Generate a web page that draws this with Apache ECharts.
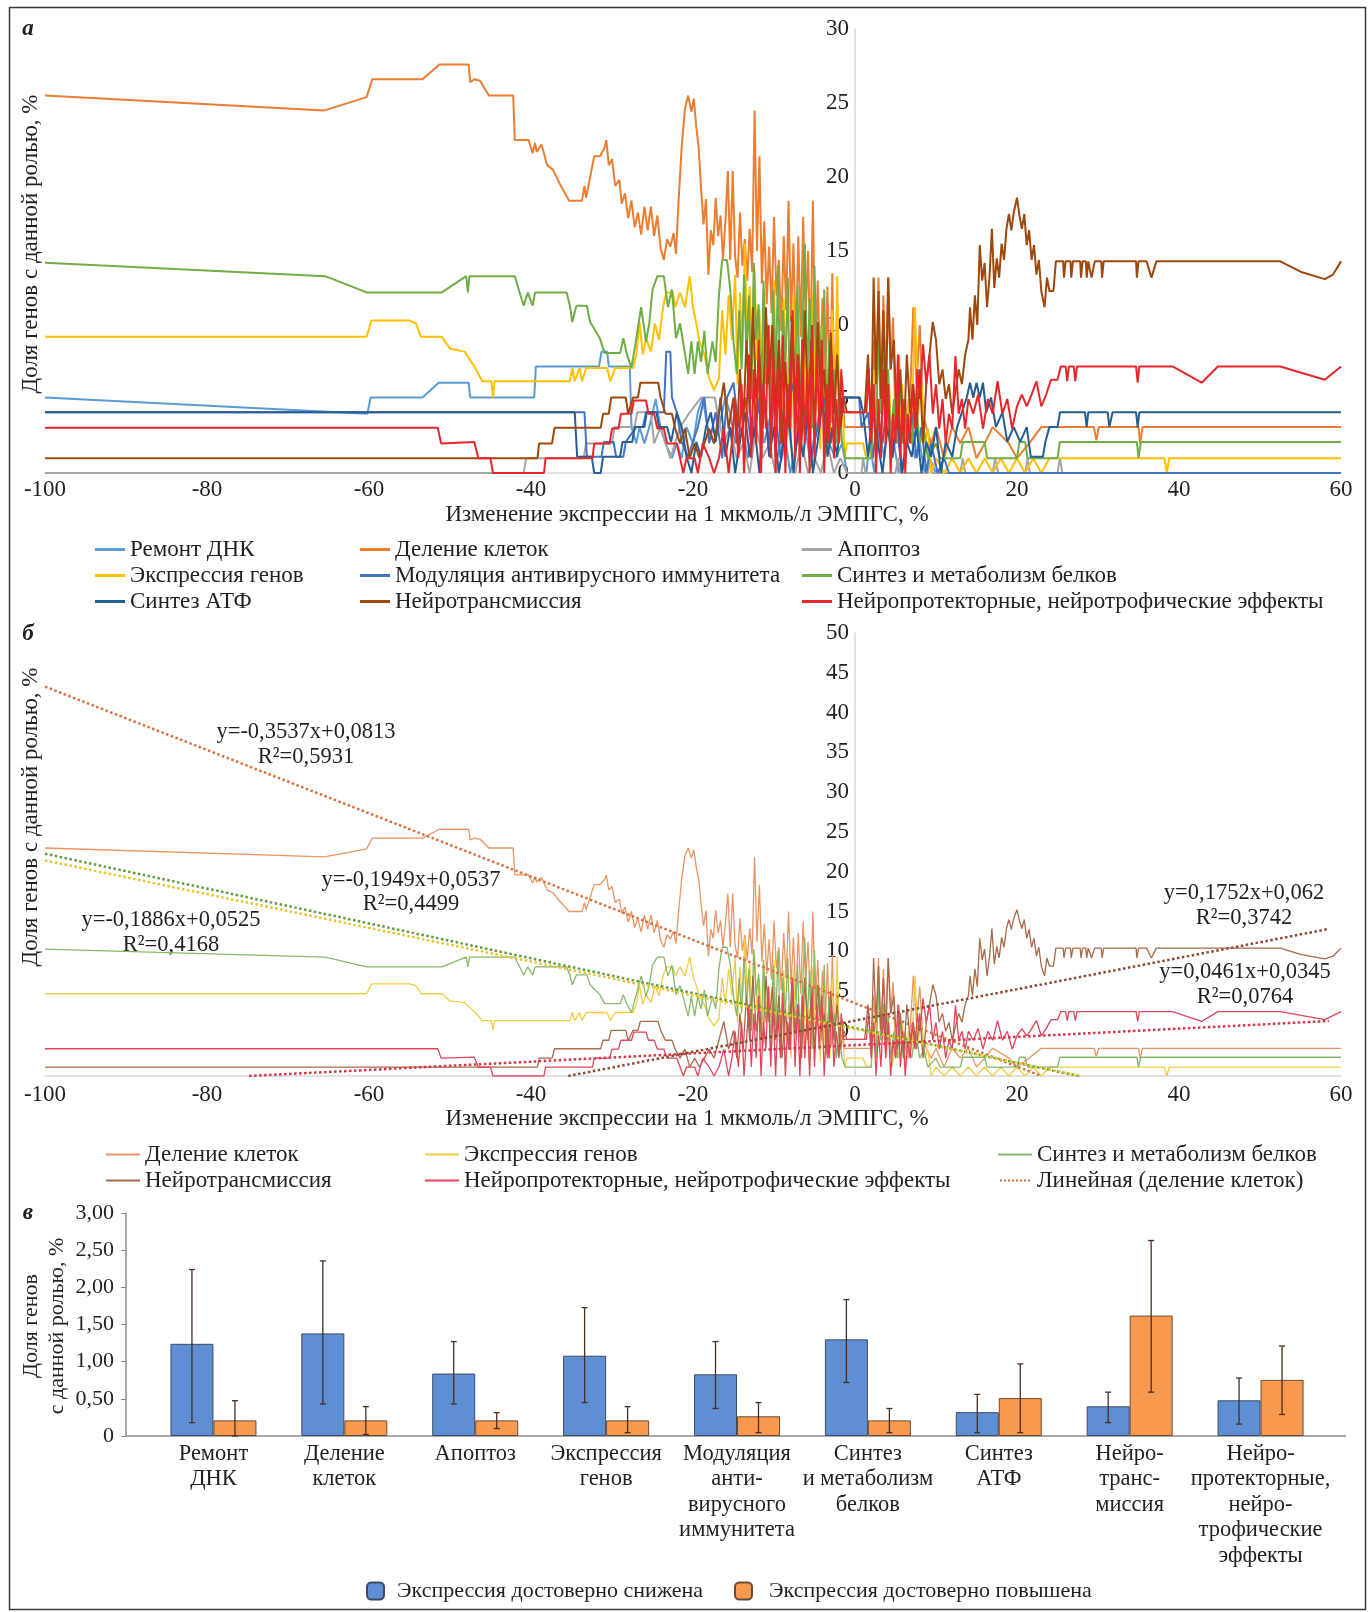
<!DOCTYPE html>
<html>
<head>
<meta charset="utf-8">
<script src="https://cdn.jsdelivr.net/npm/echarts@6/dist/echarts.min.js"></script>
<style>
  html, body { margin: 0; padding: 0; background: #fff; }
  #chart { width: 1368px; height: 1612px; }
</style>
</head>
<body>
<div id="chart"></div>
<script>
// panel а / б: share of genes with a role vs. expression change (x, %)
const dnaRepair = [[-100,5.1],[-60.2,4.0],[-59.8,5.1],[-53.4,5.1],[-51.4,6.1],[-47.7,6.1],[-47.5,5.1],[-39.6,5.1],[-39.4,7.2],[-31.6,7.2],[-31.3,8.2],[-30.6,8.2],[-30.4,7.2],[-27.8,7.2],[-27.6,3.1],[-27,2],[-26.6,3.1],[-26,2],[-25.4,3.1],[-24.6,5],[-24,3],[-23.4,2],[-22.6,1],[-22,2],[-21.4,1],[-20.8,3.1],[-20,2],[-19.4,4.1],[-18.8,5.1],[-18.2,3],[-17.4,2],[-16.8,3.1],[-16,5.1],[-15.4,4],[-14.8,2],[-14,3.1],[-13.2,1],[-12.6,3],[-12,5.1],[-11.2,2],[-10.4,4],[-9.6,1],[-8.8,3.1],[-8,0],[-7.2,2],[-6.4,4.1],[-5.6,1],[-4.8,3],[-4,5.1],[-3.2,2],[-2.4,1],[-1.6,2],[-1,0],[1.4,0],[1.8,2],[2.4,0],[3,3],[3.6,1],[4.2,4],[4.8,2],[5.4,0],[6,1],[6.8,3],[7.4,1],[8,2],[8.6,0],[9.2,1],[10,0],[60,0]];

const cellDivision = [[-100,25.5],[-65.5,24.5],[-60.3,25.4],[-59.6,26.6],[-53.4,26.6],[-51.3,27.6],[-47.7,27.6],[-47.5,26.4],[-47,26.6],[-46.3,26.5],[-45.2,25.5],[-42.2,25.5],[-42,22.5],[-40.3,22.5],[-39.8,21.6],[-39.5,22.3],[-39.3,21.7],[-38.7,22.2],[-38,20.8],[-37.3,20.5],[-36.5,19.6],[-35.3,18.4],[-33.7,18.4],[-33.4,19.4],[-33.2,18.6],[-32.2,21.4],[-31.5,21.4],[-30.9,22],[-30.7,22.5],[-30.4,20.8],[-30,21.2],[-29.6,19.4],[-29.1,19.8],[-28.8,18.2],[-28.4,18.9],[-28,17.2],[-27.6,18.4],[-27.2,16.6],[-26.8,17.6],[-26.4,16.1],[-26,18],[-25.6,16.4],[-25.2,18],[-24.8,16],[-24.4,17.4],[-24,15.2],[-23.6,14.4],[-23.2,15.8],[-22.8,15.3],[-22.4,16.2],[-22.1,14.8],[-21.8,18.2],[-21.4,22],[-21,24.6],[-20.6,25.5],[-20.2,24.4],[-19.9,25.3],[-19.6,23.4],[-19.3,22],[-19,19.2],[-18.7,16.8],[-18.4,18.5],[-18.1,13.4],[-17.8,16.4],[-17.5,15.4],[-17.2,18.6],[-16.9,16],[-16.6,17.4],[-16.3,14.4],[-16,17],[-15.7,20.4],[-15.4,14.4],[-15.1,20.4],[-14.8,14.6],[-14.5,13.2],[-14.2,17.6],[-13.9,14],[-13.6,15.8],[-13.3,13],[-13,16.5],[-12.7,13.6],[-12.4,24.5],[-12.1,15],[-11.8,21.4],[-11.5,12.8],[-11.2,17],[-10.9,11.4],[-10.6,15.3],[-10.3,10.8],[-10,17.3],[-9.7,12],[-9.4,14.4],[-9.1,9.6],[-8.8,16],[-8.5,11],[-8.2,18.4],[-7.9,10.2],[-7.6,15.5],[-7.3,8.6],[-7,16],[-6.7,9.2],[-6.4,17.3],[-6.1,10.4],[-5.8,15],[-5.5,8],[-5.2,18.4],[-4.9,7.4],[-4.6,13],[-4.3,6.8],[-4,11.8],[-3.7,5.6],[-3.4,12.6],[-3.1,4.8],[-2.8,13.5],[-2.5,3.4],[-2.2,9.4],[-1.9,2.2],[-1.6,6.4],[-1.3,3.1],[2,3.1],[2.3,9],[2.6,5],[2.9,13.2],[3.2,4],[3.5,12],[3.8,6],[4.1,13.2],[4.4,7],[4.7,10.5],[5,3],[5.4,8],[5.8,3.1],[6.2,5],[6.6,2],[7.2,11.2],[7.6,6],[8,10],[8.4,4],[8.8,3.1],[9.4,2],[10,3.1],[11,1],[12,3.1],[13,2],[14,3.1],[15,1],[16,2],[17,3.1],[19,2],[20,1],[21.5,2],[23,3.1],[29.5,3.1],[29.8,2.2],[30.1,3.1],[35,3.1],[35.2,2],[35.5,3.1],[60,3.1]];

const apoptosis = [[-100,0],[-40.9,0],[-40.6,1.0],[-33.5,1.0],[-33.2,2.0],[-30,2.0],[-29.7,3.1],[-27.2,3.1],[-26.9,4.1],[-25.2,4.1],[-24.8,2.0],[-24,3.1],[-22.8,1.0],[-21.6,3.1],[-20.4,4.1],[-19,5.1],[-17.3,5.1],[-17,4.1],[-16.2,2],[-15.4,3.1],[-14.6,1],[-13.8,2],[-13,0],[-12.2,3.1],[-11.4,1],[-10.6,2],[-9.8,0],[-9,1],[-8.2,3.1],[-7.4,0],[-6.6,2],[-5.8,0],[-5,1],[-4.2,0],[-3.4,2],[-2.6,0],[-1.8,1],[-1,0],[0.8,0],[1,1],[1.3,0],[5,0],[5.3,1],[5.6,0],[9,0],[9.3,1],[9.6,0],[13,0],[13.3,1],[13.6,0],[17,0],[17.3,1],[17.7,0],[21,0],[21.3,1],[21.6,0],[25,0],[25.3,1],[25.6,0],[60,0]];

const geneExpression = [[-100,9.2],[-60.3,9.2],[-59.7,10.3],[-55,10.3],[-54.2,10.1],[-53.6,9.2],[-51,9.2],[-50,8.4],[-48.2,8.2],[-47,7.2],[-46,6.2],[-44.9,6.2],[-44.7,5.1],[-44.5,6.2],[-35.2,6.2],[-34.9,7.1],[-34.6,6.2],[-34,7.1],[-33.7,6.2],[-33.2,7.1],[-30.6,7.1],[-30.2,6.2],[-29.6,7.1],[-27.4,7.1],[-27,8],[-26.6,10.2],[-26.2,8],[-25.8,9.1],[-25.2,8.2],[-24.7,10.1],[-24.2,9],[-23.7,11.2],[-23.3,12.2],[-22.5,12.2],[-22.2,11.2],[-21.6,12.2],[-21,11.2],[-20.4,13.3],[-20,11.2],[-19.6,10.1],[-19.2,8.9],[-18.6,8],[-18,6.4],[-17.4,5.6],[-16.8,6.4],[-16.4,11],[-16,8],[-15.6,12],[-15.2,9],[-14.8,13.4],[-14.5,6],[-14.2,12.2],[-13.9,8],[-13.6,15.5],[-13.3,9],[-13,12.6],[-12.7,6],[-12.4,13.8],[-12.1,7.6],[-11.8,11],[-11.5,4.4],[-11.2,12.4],[-10.9,6],[-10.6,10],[-10.3,3.4],[-10,13],[-9.7,5],[-9.4,9],[-9.1,2.4],[-8.8,11.8],[-8.5,4],[-8.2,8],[-7.9,2],[-7.6,12],[-7.3,4.4],[-7,9],[-6.7,2.8],[-6.4,10.6],[-6.1,3.6],[-5.8,7.4],[-5.5,2],[-5.2,12.2],[-4.9,4],[-4.6,8],[-4.3,1.6],[-4,10],[-3.7,3.2],[-3.4,7],[-3.1,2],[-2.8,11],[-2.5,4],[-2.2,13.3],[-1.9,3],[-1.6,6],[-1.3,1],[-1,2],[1,2],[1.4,1],[2,1],[2.3,7],[2.6,3],[2.9,10.5],[3.2,4],[3.5,8],[3.8,2],[4.2,6],[4.6,1],[5,4],[5.4,2],[5.8,6],[6.2,1],[6.6,5],[7,3],[7.4,11.2],[7.8,4],[8.2,6],[8.6,2],[9,3],[9.4,0],[10,1],[11,0],[12,1],[13,0],[14,1],[15,0],[16,1],[17,0],[18,1],[19,0],[20,1],[21,0],[22,1],[23,0],[24,1],[38.2,1],[38.5,0],[38.8,1],[60,1]];

const antiviral = [[-100,4.1],[-33.4,4.1],[-33.1,1.1],[-31.3,1.1],[-31,2.1],[-29.8,2.1],[-29.5,1.1],[-28.6,1.1],[-28.3,2.1],[-27,3.1],[-26.2,3.1],[-25.8,4.1],[-23.6,4.1],[-23.3,8.2],[-22.8,8.2],[-22.6,5.1],[-22,4.1],[-21.4,2.1],[-20.6,1.1],[-20,2.1],[-19.4,3.1],[-18.6,5.1],[-18,2],[-17.2,4.1],[-16.4,1],[-15.8,5.1],[-15,6.1],[-14.4,3.1],[-13.6,5.1],[-12.8,2],[-12,4.1],[-11.4,6.1],[-10.6,2],[-10,5],[-9.2,1],[-8.4,4.1],[-7.6,6.1],[-6.8,2],[-6,4.1],[-5.4,1],[-4.6,3.1],[-3.8,5.1],[-3,2],[-2.2,4.1],[-1.4,5.1],[0.5,5.1],[0.8,3.1],[1.6,4.1],[2.2,1],[2.8,4.1],[3.4,2],[4,5.1],[4.6,1],[5.2,3.1],[5.8,0],[6.4,2],[7,4.1],[7.6,1],[8.2,3.1],[8.8,0],[9.4,2],[10.2,0],[11,1],[11.6,0],[60,0]];

const proteinSynthesis = [[-100,14.2],[-65.4,13.3],[-60.3,12.2],[-51,12.2],[-48,13.3],[-47.8,12.2],[-47.6,13.3],[-42,13.3],[-41.4,12.2],[-40.9,11.3],[-40.4,12.2],[-39.8,11.3],[-39.5,12.2],[-35.6,12.2],[-35.2,11.3],[-34.9,10.2],[-34.4,11.3],[-33.1,11.3],[-32.7,10.2],[-31.5,9.1],[-30.9,8.1],[-29,8.1],[-28.6,9.1],[-28.2,8.1],[-27.6,7.1],[-27,9.1],[-26.4,11.2],[-25.8,8.9],[-25.4,10.1],[-25,12.4],[-24.4,13.3],[-23.6,13.3],[-23.1,11.2],[-22.6,12.4],[-22.1,9.1],[-21.6,10.1],[-21,8.1],[-20.6,6.7],[-20.2,8.9],[-19.8,6.7],[-19.4,8.9],[-19,7.5],[-18.6,9.6],[-18.2,6.7],[-17.6,8.9],[-17.2,7.5],[-16.8,12],[-16.4,14.4],[-15.8,14.4],[-15.4,12.4],[-15,8.9],[-14.6,6.7],[-14.3,11],[-14,7],[-13.7,13.4],[-13.4,8],[-13.1,12],[-12.8,5],[-12.5,14.2],[-12.2,9],[-11.9,11.4],[-11.6,4.2],[-11.3,13],[-11,6],[-10.7,10],[-10.4,3.2],[-10.1,12.4],[-9.8,5.6],[-9.5,14],[-9.2,4],[-8.9,11],[-8.6,7],[-8.3,13.2],[-8,3.6],[-7.7,10.5],[-7.4,5],[-7.1,12.6],[-6.8,4.4],[-6.5,9.4],[-6.2,15.5],[-5.9,6],[-5.6,11.8],[-5.3,3],[-5,14],[-4.7,5.6],[-4.4,10],[-4.1,4],[-3.8,12.4],[-3.5,2.4],[-3.2,9],[-2.9,3.4],[-2.6,7],[-2.3,2],[-2,5],[-1.6,2],[-1.2,1.0],[2,1.0],[2.3,6],[2.6,2],[2.9,9.9],[3.2,4],[3.5,8],[3.8,3],[4.1,7],[4.4,2],[4.8,5],[5.2,2],[5.6,6],[6,2],[6.4,4],[7,2],[7.5,5],[8,2],[8.5,3],[9,1],[10,2],[10.5,1],[13,1],[13.3,2.1],[16,2.1],[16.3,1],[20,1],[20.3,2.1],[21,2.1],[21.3,1],[25,1],[25.3,2.1],[34.8,2.1],[35,1],[35.3,2.1],[60,2.1]];

const atpSynthesis = [[-100,4.1],[-34.6,4.1],[-34.3,1.1],[-32.5,1.1],[-32.2,0],[-31.4,0],[-31.1,1.1],[-29,1.1],[-28.7,2.1],[-27.5,2.1],[-27.2,3.1],[-26,3.1],[-25.7,4.1],[-24.5,4.1],[-24.2,3.1],[-23.2,3.1],[-22.7,2.1],[-22,4.1],[-21.4,3.1],[-20.8,1.1],[-20.2,0],[-19.6,2.1],[-19,1.1],[-18.4,3.1],[-17.8,4.1],[-17.2,2.1],[-16.6,5.1],[-16,1.1],[-15.4,3.1],[-14.8,0],[-14.2,2.1],[-13.6,4.1],[-13,1.1],[-12.4,3.1],[-11.8,0],[-11.2,5.1],[-10.6,1.1],[-10,3.1],[-9.4,0],[-8.8,2.1],[-8.2,4.1],[-7.6,0],[-7,3.1],[-6.4,1.1],[-5.8,4.1],[-5.2,0],[-4.6,2.1],[-4,5.1],[-3.4,1.1],[-2.8,3.1],[-2.2,1.1],[-1.6,5.1],[0.6,5.1],[1,4.1],[1.6,1.1],[2.2,4.1],[2.8,2.1],[3.4,0],[4,3.1],[4.6,1.1],[5.2,4.1],[5.8,0],[6.4,2.1],[7,1.1],[7.6,3.1],[8.2,0],[8.8,2.1],[9.4,1.1],[10,3.1],[10.6,0],[11.2,2.1],[12,1.1],[12.6,3.1],[13.2,4.1],[13.8,5.1],[14.2,6.1],[14.6,5.1],[15,6.1],[15.4,5.1],[15.8,6.1],[16.2,4.1],[16.8,5.1],[17.4,3.1],[18.2,4.1],[18.8,2.1],[19.6,3.1],[20.4,2.1],[21.2,3.1],[21.7,1.1],[23.2,1.1],[23.5,2.1],[24,3.1],[25,3.1],[25.3,4.1],[28.4,4.1],[28.6,3.1],[28.8,4.1],[31.2,4.1],[31.4,3.1],[31.8,4.1],[34.7,4.1],[34.9,3.1],[35.1,4.1],[60,4.1]];

const neurotransmission = [[-100,1.0],[-39.2,1.0],[-39,2.0],[-37.4,2.0],[-37.1,3.05],[-31.4,3.05],[-31.1,4.0],[-30.4,4.0],[-30.1,5.1],[-28.3,5.1],[-28,4.0],[-27.4,5.1],[-26.8,5.1],[-26.5,6.1],[-24.3,6.1],[-24,5.1],[-23.4,4.0],[-22.6,4.0],[-22.2,3.0],[-21.6,2.0],[-21,3.0],[-20.4,1.0],[-19.8,2.0],[-19.2,1.0],[-18.6,2.0],[-18,3.0],[-17.4,2.0],[-16.8,4.0],[-16.2,6.1],[-15.6,3],[-15,5.1],[-14.6,2],[-14.2,7],[-13.8,3],[-13.4,9],[-13,4],[-12.6,11.2],[-12.2,5],[-11.8,8],[-11.4,3],[-11,11.2],[-10.6,6],[-10.2,10],[-9.8,4],[-9.4,9],[-9,2],[-8.6,7.5],[-8.2,3],[-7.8,10.6],[-7.4,5],[-7,8],[-6.6,2],[-6.2,11],[-5.8,4],[-5.4,9],[-5,3],[-4.6,10.2],[-4.2,5],[-3.8,7],[-3.4,2],[-3,9.5],[-2.6,4],[-2.2,8],[-1.8,3],[-1.4,5.1],[-1,4.1],[1.2,4.1],[1.6,8],[2,3],[2.3,13.2],[2.6,6],[2.9,12.3],[3.2,5],[3.5,11],[3.8,4],[4.1,13.2],[4.4,7],[4.8,9],[5.2,3],[5.6,7],[6,2],[6.4,8],[6.8,4],[7.2,6],[7.6,3],[8,7],[8.4,2],[8.8,6],[9.2,8],[9.6,10.2],[10,9],[10.4,6],[10.8,7],[11.2,5],[11.6,6],[12,4],[12.4,5.5],[12.8,7],[13.2,6],[13.6,8],[14,9],[14.2,11.2],[14.5,9],[14.8,12],[15.1,10],[15.4,15.4],[15.7,13],[16,14.2],[16.3,11.2],[16.6,13.2],[16.9,16.5],[17.2,12.5],[17.5,14.5],[17.8,13.2],[18.1,15.5],[18.4,14.4],[18.7,16.5],[19,17.5],[19.3,16.4],[19.6,17.6],[20,18.6],[20.3,17.4],[20.6,16.5],[20.9,17.5],[21.2,15.4],[21.5,16.4],[21.8,14.4],[22.1,15.4],[22.4,13.4],[22.7,14.4],[23,12.3],[23.4,11.2],[23.7,13.2],[24,12.3],[24.5,12.3],[24.8,14.3],[25.7,14.3],[25.8,13.2],[26,14.3],[26.6,14.3],[26.7,13.2],[26.9,14.3],[27.8,14.3],[27.9,13.2],[28.1,14.3],[28.5,14.3],[28.6,13.2],[28.8,14.3],[29.2,13.2],[29.6,14.3],[30.4,14.3],[30.5,13.2],[30.7,14.3],[34.7,14.3],[34.8,13.2],[35,14.3],[36,14.3],[36.6,13.2],[37.2,14.3],[52.5,14.3],[55,13.6],[58,13.1],[59,13.4],[60,14.3]];

const neuroprotective = [[-100,3.05],[-51.5,3.05],[-51.1,2.0],[-47,2.1],[-46.5,1.0],[-45,1.0],[-44.7,0],[-38.4,0],[-38.2,1.0],[-32.4,1.0],[-32.2,2.0],[-30.3,2.0],[-30,3.0],[-29.2,3.0],[-28.9,4.0],[-27.6,4.0],[-27.3,4.9],[-25.8,4.9],[-25.5,4.0],[-24.8,4.0],[-24.4,3.0],[-23.6,3.0],[-23.2,2.0],[-22,2.0],[-21.6,1.0],[-21.2,0],[-20.8,1.0],[-19.8,1.0],[-19.4,0],[-18.8,2.0],[-18,1],[-17.4,0],[-16.8,1],[-16.2,3],[-15.6,0],[-15.2,2],[-14.8,5],[-14.4,1],[-14,6],[-13.7,0],[-13.4,4],[-13.1,8],[-12.8,1],[-12.5,7],[-12.2,2],[-11.9,9],[-11.6,0],[-11.3,6],[-11,3],[-10.7,10],[-10.4,1],[-10.1,8],[-9.8,0],[-9.5,7],[-9.2,2],[-8.9,9.3],[-8.6,0],[-8.3,6],[-8,3],[-7.7,11],[-7.4,1],[-7.1,8],[-6.8,0],[-6.5,9],[-6.2,2],[-5.9,7],[-5.6,0],[-5.3,10],[-5,1],[-4.7,8],[-4.4,3],[-4.1,9],[-3.8,0],[-3.5,6],[-3.2,2],[-2.9,8],[-2.6,1],[-2.3,5],[-2,2],[-1.7,7],[-1.4,4.1],[1.4,4.1],[1.7,7],[2,2],[2.3,6],[2.6,0],[2.9,5],[3.2,1],[3.5,7],[3.8,2],[4.1,6],[4.4,0],[4.7,4],[5,2],[5.3,8],[5.6,1],[5.9,5],[6.2,0],[6.5,4],[6.8,2],[7.1,6],[7.4,3],[7.7,7],[8,5],[8.4,8.7],[8.8,6],[9.2,8],[9.6,4],[10,6],[10.4,3],[10.8,5],[11.2,2],[11.6,4],[12,3],[12.4,7.9],[12.8,4],[13.2,5],[13.6,3],[14,5],[14.6,4],[15.2,5.3],[15.8,3],[16.4,5],[17,4],[17.6,6.2],[18.2,4],[18.8,5],[19.4,3],[20,4.5],[20.6,5.3],[21.2,4.5],[21.8,5.3],[22.4,6.2],[23,4.5],[23.6,5.3],[24.2,6.3],[25,6.3],[25.4,7.2],[26,7.2],[26.2,6.2],[26.4,7.2],[27,7.2],[27.2,6.2],[27.4,7.2],[34.7,7.2],[34.9,6.1],[35.1,7.2],[39.2,7.2],[42.8,6.1],[44.8,7.2],[52.5,7.2],[58,6.3],[60,7.2]];

// linear trends drawn in panel б
const trendDivision = [[-100,43.55],[23,0]];
const trendProtein = [[-100,24.86],[27.55,0]];
const trendExpression = [[-100,24.11],[27.84,0]];
const trendNeurotrans = [[-35.4,0],[58.5,16.45]];
const trendNeuroprot = [[-74.8,0],[58.5,6.15]];

// panel в
const roleCategories = ['Ремонт\nДНК','Деление\nклеток','Апоптоз','Экспрессия\nгенов','Модуляция\nанти-\nвирусного\nиммунитета','Синтез\nи метаболизм\nбелков','Синтез\nАТФ','Нейро-\nтранс-\nмиссия','Нейро-\nпротекторные,\nнейро-\nтрофические\nэффекты'];
const decreasedMean = [1.24, 1.38, 0.84, 1.08, 0.83, 1.30, 0.32, 0.40, 0.48];
const increasedMean = [0.21, 0.21, 0.21, 0.21, 0.265, 0.21, 0.51, 1.62, 0.755];
const decreasedLow = [0.18, 0.43, 0.43, 0.45, 0.37, 0.72, 0.045, 0.18, 0.16];
const decreasedHigh = [2.24, 2.355, 1.27, 1.727, 1.27, 1.835, 0.56, 0.59, 0.78];
const increasedLow = [0, 0.02, 0.10, 0.045, 0.045, 0.045, 0.045, 0.59, 0.29];
const increasedHigh = [0.475, 0.395, 0.315, 0.395, 0.45, 0.37, 0.97, 2.63, 1.21];

const FONT = '"Liberation Serif", "Times New Roman", serif';
const INK = '#231f20';
const AXIS_GRAY = '#d9d9d9';
const FS = 23;
const DOTTED_ICON = 'path://M0 0h2v2H0zM4 0h2v2H4zM8 0h2v2H8zM12 0h2v2h-2zM16 0h2v2h-2zM20 0h2v2h-2zM24 0h2v2h-2zM28 0h2v2h-2z';

const roleNames = ['Ремонт ДНК','Деление клеток','Апоптоз','Экспрессия генов','Модуляция антивирусного иммунитета','Синтез и метаболизм белков','Синтез АТФ','Нейротрансмиссия','Нейропротекторные, нейротрофические эффекты'];
const roleColors = ['#5B9BD5','#ED7D31','#A5A5A5','#FFC000','#4472C4','#70AD47','#255E91','#9E480E','#E8262A'];
const roleData = [dnaRepair, cellDivision, apoptosis, geneExpression, antiviral, proteinSynthesis, atpSynthesis, neurotransmission, neuroprotective];

// panel б repeats five of the roles in lighter tones (names get a trailing space so the legends stay separate)
const panelBRoles = [1, 3, 5, 7, 8];
const panelBColors = ['#EC9463','#F2CC45','#86B86A','#A86A48','#E2445A'];

const chart = echarts.init(document.getElementById('chart'));

const series = [];
roleNames.forEach((name, i) => {
  series.push({
    name, type: 'line', xAxisIndex: 0, yAxisIndex: 0,
    data: roleData[i], symbol: 'none', silent: true,
    lineStyle: { color: roleColors[i], width: 2 }, itemStyle: { color: roleColors[i] }
  });
});
panelBRoles.forEach((idx, k) => {
  series.push({
    name: roleNames[idx] + ' ', type: 'line', xAxisIndex: 1, yAxisIndex: 1,
    data: roleData[idx], symbol: 'none', silent: true,
    lineStyle: { color: panelBColors[k], width: 1.3 }, itemStyle: { color: panelBColors[k] }
  });
});
const trends = [
  ['Линейная (деление клеток)', trendDivision, '#D9703F'],
  ['Линейная (синтез белков)', trendProtein, '#5E9E3E'],
  ['Линейная (экспрессия генов)', trendExpression, '#EBC32F'],
  ['Линейная (нейротрансмиссия)', trendNeurotrans, '#8A4A2E'],
  ['Линейная (нейропротекция)', trendNeuroprot, '#D8344A']
];
trends.forEach(([name, data, color]) => {
  series.push({
    name, type: 'line', xAxisIndex: 1, yAxisIndex: 1, data, symbol: 'none', silent: true,
    lineStyle: { color, width: 2.5, type: 'dotted' }, itemStyle: { color }
  });
});

// bars with error whiskers
const BAR_W = 43;
series.push({
  name: 'Экспрессия достоверно снижена', type: 'bar', xAxisIndex: 3, yAxisIndex: 3,
  data: decreasedMean, barWidth: BAR_W, barGap: '0%',
  itemStyle: { color: '#5F8FD3', borderColor: '#3b4a66', borderWidth: 1 }
});
series.push({
  name: 'Экспрессия достоверно повышена', type: 'bar', xAxisIndex: 3, yAxisIndex: 3,
  data: increasedMean, barWidth: BAR_W,
  itemStyle: { color: '#F79A4F', borderColor: '#6b4a33', borderWidth: 1 }
});
function whiskers(low, high, shift) {
  return {
    type: 'custom', xAxisIndex: 3, yAxisIndex: 3, silent: true, z: 5,
    data: low.map((l, i) => [i, l, high[i]]),
    renderItem: (params, api) => {
      const top = api.coord([api.value(0), api.value(2)]);
      const bot = api.coord([api.value(0), api.value(1)]);
      const x = top[0] + shift;
      const st = { stroke: '#4a2e22', lineWidth: 1.3 };
      return { type: 'group', children: [
        { type: 'line', shape: { x1: x, y1: top[1], x2: x, y2: bot[1] }, style: st },
        { type: 'line', shape: { x1: x - 3, y1: top[1], x2: x + 3, y2: top[1] }, style: st },
        { type: 'line', shape: { x1: x - 3, y1: bot[1], x2: x + 3, y2: bot[1] }, style: st }
      ] };
    }
  };
}
series.push(whiskers(decreasedLow, decreasedHigh, -BAR_W / 2));
series.push(whiskers(increasedLow, increasedHigh, BAR_W / 2));

const tickFont = { fontFamily: FONT, fontSize: FS, color: INK };
const valueX = (idx, margin) => ({
  type: 'value', gridIndex: idx, min: -100, max: 60, interval: 20,
  axisLine: { lineStyle: { color: AXIS_GRAY, width: 1.5 } },
  axisTick: { show: false }, splitLine: { show: false },
  axisLabel: Object.assign({ margin }, tickFont)
});
// label-only y axis sitting at x = 0 of a panel
const zeroLabelAxis = (idx, max) => ({
  type: 'value', gridIndex: idx, min: 0, max, interval: 5, position: 'left',
  axisLine: { show: false }, axisTick: { show: false }, splitLine: { show: false },
  axisLabel: Object.assign({ margin: 5 }, tickFont)
});

function legendCol(names, left, top, extra) {
  return Object.assign({
    data: names, orient: 'vertical', left, top, padding: 0,
    itemWidth: 30, itemHeight: 3, itemGap: 3, icon: 'rect',
    selectedMode: false,
    textStyle: { fontFamily: FONT, fontSize: FS, color: INK, lineHeight: 22 }
  }, extra || {});
}

const txt = (text, x, y, size, extra) => ({
  type: 'text', x, y, silent: true,
  style: Object.assign({ text, fill: INK, font: size + 'px ' + FONT, textAlign: 'center', textVerticalAlign: 'middle' }, extra || {})
});

chart.setOption({
  animation: false,
  backgroundColor: '#fff',
  grid: [
    { left: 45, top: 29, width: 1296, height: 444 },
    { left: 45, top: 633, width: 1296, height: 443 },
    { left: 854, top: 633, width: 10, height: 398 },
    { left: 148, top: 1213, width: 1178, height: 223 },
    { left: 854, top: 29, width: 10, height: 444 }
  ],
  xAxis: [
    valueX(0, 5),
    valueX(1, 7),
    { type: 'value', gridIndex: 2, min: 0, max: 1, show: false },
    {
      type: 'category', gridIndex: 3, data: roleCategories,
      axisLine: { show: false }, axisTick: { show: false },
      axisLabel: { interval: 0, margin: 5, lineHeight: 25.5, fontSize: 22.5, fontFamily: FONT, color: INK }
    },
    { type: 'value', gridIndex: 4, min: 0, max: 1, show: false }
  ],
  yAxis: [
    {
      type: 'value', gridIndex: 0, min: 0, max: 30,
      axisLine: { lineStyle: { color: AXIS_GRAY, width: 1.5 } },
      axisTick: { show: false }, splitLine: { show: false }, axisLabel: { show: false }
    },
    {
      type: 'value', gridIndex: 1, min: 0, max: 49.55,
      axisLine: { lineStyle: { color: AXIS_GRAY, width: 1.5 } },
      axisTick: { show: false }, splitLine: { show: false }, axisLabel: { show: false }
    },
    zeroLabelAxis(2, 50),
    {
      type: 'value', gridIndex: 3, min: 0, max: 3, interval: 0.5, offset: 22,
      axisLine: { show: true, lineStyle: { color: '#8c8c8c', width: 1.5 } },
      axisTick: { show: true, length: 5, lineStyle: { color: '#8c8c8c' } },
      splitLine: { show: false },
      axisLabel: Object.assign({
        margin: 12,
        formatter: v => (v === 0 ? '0' : v.toFixed(2).replace('.', ','))
      }, tickFont, { fontSize: 22 })
    },
    zeroLabelAxis(4, 30)
  ],
  legend: [
    legendCol(['Ремонт ДНК','Экспрессия генов','Синтез АТФ'], 95, 538),
    legendCol(['Деление клеток','Модуляция антивирусного иммунитета','Нейротрансмиссия'], 360, 538),
    legendCol(['Апоптоз','Синтез и метаболизм белков','Нейропротекторные, нейротрофические эффекты'], 802, 538),
    legendCol(['Деление клеток ','Нейротрансмиссия '], 106, 1143, { itemWidth: 34, itemHeight: 2 }),
    legendCol(['Экспрессия генов ','Нейропротекторные, нейротрофические эффекты '], 425, 1143, { itemWidth: 34, itemHeight: 2 }),
    legendCol(['Синтез и метаболизм белков ', { name: 'Линейная (деление клеток)', icon: DOTTED_ICON }], 998, 1143, { itemWidth: 34, itemHeight: 2 }),
    {
      data: ['Экспрессия достоверно снижена'], left: 366, top: 1580, padding: 0, itemWidth: 17, itemHeight: 17,
      selectedMode: false, textStyle: { fontFamily: FONT, fontSize: 22, color: INK, padding: [0, 0, 0, 8] }
    },
    {
      data: ['Экспрессия достоверно повышена'], left: 734, top: 1580, padding: 0, itemWidth: 17, itemHeight: 17,
      selectedMode: false, textStyle: { fontFamily: FONT, fontSize: 22, color: INK, padding: [0, 0, 0, 12] }
    }
  ],
  graphic: [
    { type: 'rect', silent: true, shape: { x: 9.5, y: 7.5, width: 1356, height: 1602 },
      style: { fill: 'none', stroke: '#3a3a3a', lineWidth: 1.5 } },
    { type: 'line', silent: true, shape: { x1: 126, y1: 1436, x2: 1346, y2: 1436 },
      style: { stroke: '#8c8c8c', lineWidth: 1.5 } },
    txt('а', 28, 29, 22, { font: 'italic bold 23px ' + FONT }),
    txt('б', 28, 634, 22, { font: 'italic bold 23px ' + FONT }),
    txt('в', 28, 1213, 22, { font: 'italic bold 23px ' + FONT }),
    Object.assign(txt('Доля генов с данной ролью, %', 31, 244, FS), { rotation: Math.PI / 2 }),
    Object.assign(txt('Доля генов с данной ролью, %', 31, 817, FS), { rotation: Math.PI / 2 }),
    Object.assign(txt('Доля генов\nс данной ролью, %', 44, 1326, 22, { lineHeight: 26 }), { rotation: Math.PI / 2 }),
    txt('Изменение экспрессии на 1 мкмоль/л ЭМПГС, %', 687, 515, FS),
    txt('Изменение экспрессии на 1 мкмоль/л ЭМПГС, %', 687, 1119, FS),
    txt('y=-0,3537x+0,0813', 306, 732, 22.5),
    txt('R²=0,5931', 306, 757, 22.5),
    txt('y=-0,1949x+0,0537', 411, 880, 22.5),
    txt('R²=0,4499', 411, 904, 22.5),
    txt('y=-0,1886x+0,0525', 171, 920, 22.5),
    txt('R²=0,4168', 171, 945, 22.5),
    txt('y=0,1752x+0,062', 1244, 893, 22.5),
    txt('R²=0,3742', 1244, 918, 22.5),
    txt('y=0,0461x+0,0345', 1245, 972, 22.5),
    txt('R²=0,0764', 1245, 997, 22.5)
  ],
  series
});
</script>
</body>
</html>
